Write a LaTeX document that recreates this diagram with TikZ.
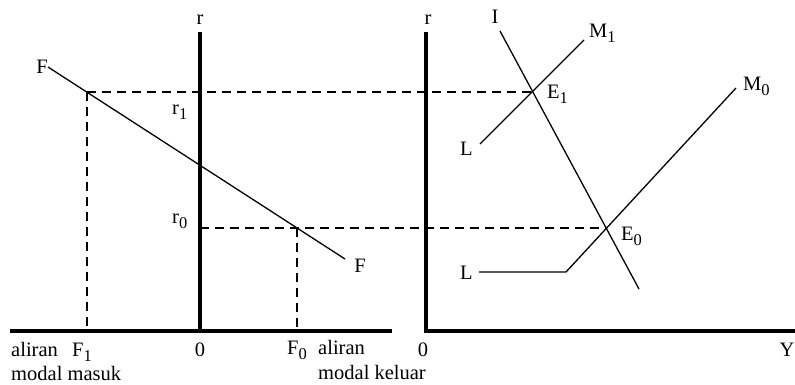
\documentclass[tikz,border=0pt]{standalone}
\usepackage{fontspec}
\setmainfont{Liberation Serif}
\newcommand\sbs[1]{\raisebox{-5pt}{\fontsize{16.5}{16.5}\selectfont #1}}
\begin{document}
\begin{tikzpicture}[x=1pt,y=-1pt,
  lbl/.style={inner sep=0pt,font=\fontsize{20.5}{20.5}\selectfont},
  axisline/.style={line width=4pt},
  curve/.style={line width=1.3pt},
  guide/.style={line width=1.2pt,dash pattern=on 9pt off 6pt}]
\useasboundingbox (0,0) rectangle (795,384);
% coordinates
\coordinate (LT) at (200,32);
\coordinate (LO) at (200,331);
\coordinate (LXa) at (10,331);
\coordinate (LXb) at (392,331);
\coordinate (RT) at (426,32);
\coordinate (RO) at (426,331);
\coordinate (RXb) at (795,331);
\coordinate (Fa) at (48,67);
\coordinate (Fb) at (345,259);
\coordinate (P1) at (87,92);
\coordinate (P0) at (297,228);
\coordinate (B1) at (87,331);
\coordinate (B0) at (297,331);
\coordinate (A0) at (200,228);
\coordinate (E1) at (533,92);
\coordinate (E0) at (606,228);
\coordinate (Ia) at (500,31);
\coordinate (Ib) at (639,289);
\coordinate (M1a) at (480,144);
\coordinate (M1b) at (584,40);
\coordinate (M0a) at (479,272);
\coordinate (M0k) at (566,272);
\coordinate (M0b) at (736,88);
% axes
\draw[axisline] (LT) -- (LO);
\draw[axisline] (LXa) -- (LXb);
\draw[axisline,line join=miter] (RT) -- (RO) -- (RXb);
% curves
\draw[curve] (Fa) -- (Fb);
\draw[curve] (Ia) -- (Ib);
\draw[curve] (M1a) -- (M1b);
\draw[curve] (M0a) -- (M0k) -- (M0b);
% guides
\draw[guide] (P1) -- (E1);
\draw[guide] (P1) -- (B1);
\draw[guide] (A0) -- (E0);
\draw[guide] (P0) -- (B0);
% labels
\node[lbl,anchor=base] (rL) at (200,24) {r};
\node[lbl,anchor=base] (rR) at (428,24) {r};
\node[lbl,anchor=base] (FL) at (42,73) {F};
\node[lbl,anchor=base] (FR) at (360,272) {F};
\node[lbl,anchor=base west] (r1) at (172,114) {r\sbs{1}};
\node[lbl,anchor=base west] (r0) at (172,223) {r\sbs{0}};
\node[lbl,anchor=base west] (al1) at (11,356) {aliran};
\node[lbl,anchor=base west] (F1) at (72,356) {F\sbs{1}};
\node[lbl,anchor=base] (zL) at (200,356) {0};
\node[lbl,anchor=base west] (F0) at (287,354) {F\sbs{0}};
\node[lbl,anchor=base west] (al2) at (318,354) {aliran};
\node[lbl,anchor=base] (zR) at (423,356) {0};
\node[lbl,anchor=base] (Y) at (787,356) {Y};
\node[lbl,anchor=base west] (mm) at (11,380) {modal masuk};
\node[lbl,anchor=base west] (mk) at (318,379) {modal keluar};
\node[lbl,anchor=base] (I) at (495,23) {I};
\node[lbl,anchor=base west] (M1) at (589,37) {M\sbs{1}};
\node[lbl,anchor=base west] (M0) at (743,90) {M\sbs{0}};
\node[lbl,anchor=base west] (E1l) at (547,98) {E\sbs{1}};
\node[lbl,anchor=base west] (E0l) at (621,240) {E\sbs{0}};
\node[lbl,anchor=base west] (L1) at (460,155) {L};
\node[lbl,anchor=base west] (L0) at (460,279) {L};
\end{tikzpicture}
\end{document}
